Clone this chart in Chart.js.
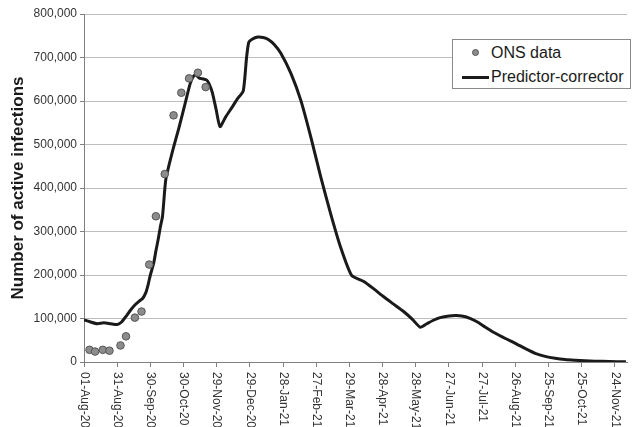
<!DOCTYPE html>
<html>
<head>
<meta charset="utf-8">
<script src="https://cdn.jsdelivr.net/npm/chart.js@4"></script>
<style>
  body { margin: 0; background: #fff; }
  #wrap { position: relative; width: 632px; height: 427px; }
  #legend {
    position: absolute; left: 452px; top: 39px; width: 177px; height: 48px;
    border: 1px solid #8a8a8a; background: #fff;
    font-family: "Liberation Sans", Arial, sans-serif; font-size: 16px; color: #1a1a1a;
  }
  .row { position: absolute; left: 0; height: 20px; line-height: 20px; white-space: nowrap; }
  .dot { position: absolute; left: 19px; top: 6px; width: 7px; height: 7px; border-radius: 50%; background: #8c8c8c; border: 1px solid #555; box-sizing: border-box; }
  .ln { position: absolute; left: 9px; top: 9px; width: 27px; height: 3px; background: #1a1a1a; }
  .txt { position: absolute; left: 38px; top: 0; }
</style>
</head>
<body>
<div id="wrap">
  <canvas id="chart" width="632" height="427"></canvas>
  <div id="legend">
    <div class="row" style="top:3px"><span class="dot"></span><span class="txt">ONS data</span></div>
    <div class="row" style="top:27px"><span class="ln"></span><span class="txt">Predictor-corrector</span></div>
  </div>
</div>
<script>
// x値は 01-Aug-20 からの日数
const xTickLabels = ['01-Aug-20','31-Aug-20','30-Sep-20','30-Oct-20','29-Nov-20','29-Dec-20','28-Jan-21','27-Feb-21',
  '29-Mar-21','28-Apr-21','28-May-21','27-Jun-21','27-Jul-21','26-Aug-21','25-Sep-21','25-Oct-21','24-Nov-21'];

const onsDays = [5, 10, 17, 23, 33, 38, 46, 52, 59, 65, 73, 81, 88, 95, 103, 110];
const onsValues = [28000, 24000, 28000, 26000, 38000, 59000, 102000, 116000, 224000, 335000,
  432000, 567000, 619000, 652000, 665000, 632000];

const modelDays = [0, 6, 12, 18, 24, 30, 34, 38, 42, 46, 50, 53, 56, 58, 60, 63, 65, 67, 69, 71,
  74, 80, 86, 92, 96, 99, 101, 104, 107, 111, 113, 116, 119.5, 123, 128, 134, 139,
  144, 147, 149, 152, 157, 162, 167, 172, 178, 187, 196, 205, 214, 223, 232, 242,
  253, 262, 271, 280, 289, 297, 304, 310, 316, 322, 330, 337, 345,
  355, 363, 372, 381, 390, 399, 408, 417, 426, 435, 444, 453, 462, 475, 490];
const modelValues = [97000, 92000, 88000, 90000, 88000, 86000, 92000, 105000, 119000, 131000,
  140000, 146000, 160000, 178000, 200000, 227000, 255000, 281000, 310000, 335000,
  420000, 484000, 540000, 600000, 640000, 657000, 660000, 653000, 651000,
  648000, 640000, 620000, 580000, 541000, 563000, 586000, 606000,
  623000, 700000, 735000, 742000, 747000, 746000, 741000, 730000, 710000, 664000, 602000,
  518000, 426000, 341000, 264000, 199000,
  185000, 168000, 150000, 133000, 116000, 98000, 80000, 88000, 96000, 102000, 106000, 107000, 104000,
  93000, 80000, 66000, 54000, 43000, 31000, 20000, 13000, 8500, 5500, 4000, 3000, 2000, 1000, 500];

const fontFamily = '"Liberation Sans", Arial, sans-serif';

// x軸ラベルを時計回りに描く
const xLabelPlugin = {
  id: 'xLabels',
  afterDraw(chart) {
    const ctx = chart.ctx;
    const scale = chart.scales.x;
    ctx.save();
    ctx.fillStyle = '#333';
    ctx.font = '12px ' + fontFamily;
    ctx.textAlign = 'left';
    ctx.textBaseline = 'middle';
    scale.ticks.forEach(t => {
      const x = scale.getPixelForValue(t.value);
      ctx.save();
      ctx.translate(x, scale.top + 10);
      ctx.rotate(Math.PI / 2);
      ctx.fillText(xTickLabels[Math.round(t.value / 30)], 0, 0);
      ctx.restore();
    });
    ctx.restore();
  }
};

new Chart(document.getElementById('chart'), {
  type: 'scatter',
  data: {
    datasets: [
      {
        label: 'ONS data',
        data: onsDays.map((d, i) => ({ x: d, y: onsValues[i] })),
        pointRadius: 3.8,
        pointBackgroundColor: '#8c8c8c',
        pointBorderColor: '#555',
        pointBorderWidth: 1,
        order: 1
      },
      {
        label: 'Predictor-corrector',
        type: 'line',
        data: modelDays.map((d, i) => ({ x: d, y: modelValues[i] })),
        borderColor: '#1a1a1a',
        borderWidth: 3,
        pointRadius: 0,
        tension: 0.2,
        fill: false,
        order: 2
      }
    ]
  },
  options: {
    responsive: false,
    animation: false,
    layout: { padding: { top: 14, right: 0, left: 0, bottom: 0 } },
    plugins: { legend: { display: false }, tooltip: { enabled: false } },
    scales: {
      x: {
        type: 'linear',
        min: 0,
        max: 491,
        afterBuildTicks: s => { s.ticks = xTickLabels.map((_, i) => ({ value: i * 30 })); },
        afterFit: s => { s.height = 65; },
        ticks: { display: false },
        grid: { drawOnChartArea: false, drawTicks: true, tickLength: 5, color: '#808080' },
        border: { color: '#808080', width: 1 }
      },
      y: {
        min: 0,
        max: 800000,
        afterFit: s => { s.width = 84; },
        ticks: {
          stepSize: 100000,
          padding: 3,
          color: '#333',
          font: { size: 12, family: fontFamily },
          callback: v => v.toLocaleString('en-US')
        },
        grid: { color: '#bdbdbd', tickLength: 4, tickColor: '#808080' },
        border: { color: '#808080', width: 1 },
        title: {
          display: true,
          text: 'Number of active infections',
          color: '#1a1a1a',
          font: { size: 17, weight: 'bold', family: fontFamily },
          padding: { top: 8, bottom: 0 }
        }
      }
    }
  },
  plugins: [xLabelPlugin]
});
</script>
</body>
</html>
